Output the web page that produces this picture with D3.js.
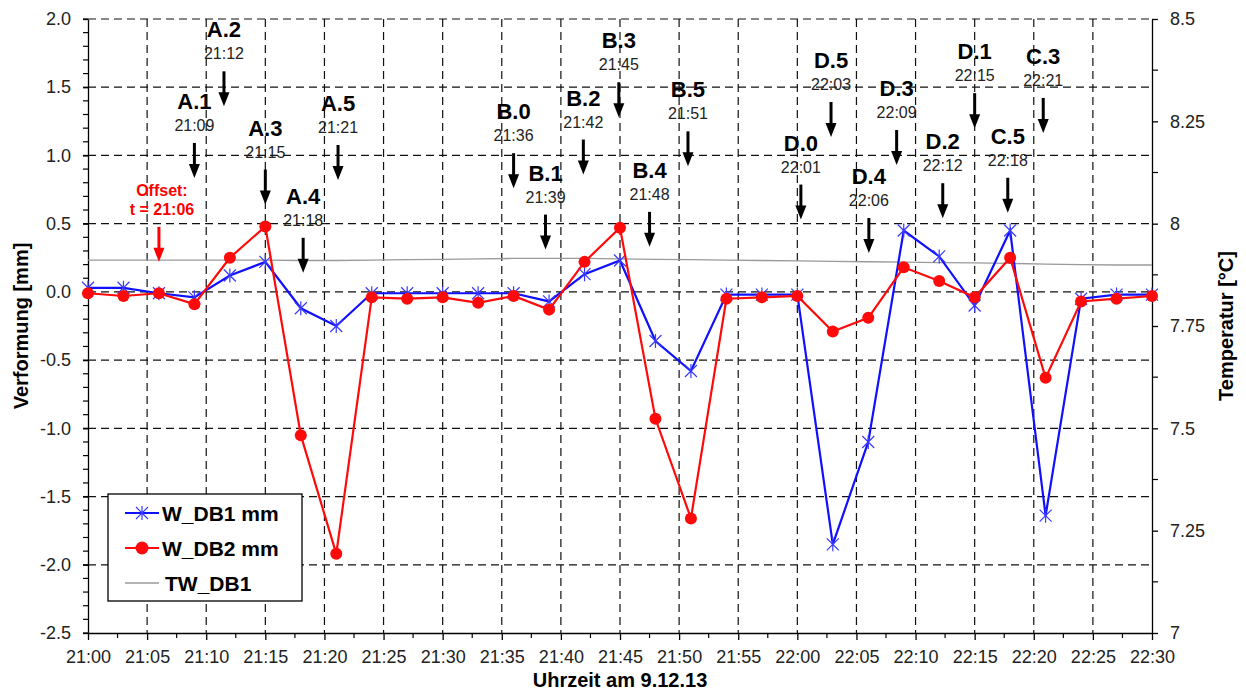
<!DOCTYPE html>
<html lang="de">
<head>
<meta charset="UTF-8">
<script src="https://d3js.org/d3.v7.min.js"></script>
<style>
  body { margin: 0; background: #fff; }
  svg { font-family: "Liberation Sans", Arial, sans-serif; }
  .grid line { stroke: #111; stroke-width: 1.2; stroke-dasharray: 8,5; }
  .axis text { font-size: 18px; fill: #222; }
  .axis path, .axis line { stroke: #000; stroke-width: 1.3; }
  .title { font-size: 20px; font-weight: bold; fill: #000; }
  .ann-label { font-size: 22px; font-weight: bold; fill: #000; }
  .ann-time { font-size: 16px; fill: #222; }
  .legend text { font-size: 21px; font-weight: bold; }
</style>
</head>
<body>
<svg width="1246" height="696"></svg>
<script>
// measurement times (every 3 minutes)
var times = ["21:00","21:03","21:06","21:09","21:12","21:15","21:18","21:21","21:24","21:27",
             "21:30","21:33","21:36","21:39","21:42","21:45","21:48","21:51","21:54","21:57",
             "22:00","22:03","22:06","22:09","22:12","22:15","22:18","22:21","22:24","22:27","22:30"];
// deformation [mm]
var wdb1 = [0.03, 0.03, -0.01, -0.04, 0.12, 0.22, -0.12, -0.25, -0.01, -0.01,
            -0.01, -0.01, -0.01, -0.07, 0.13, 0.23, -0.36, -0.58, -0.02, -0.02,
            -0.02, -1.85, -1.10, 0.45, 0.26, -0.10, 0.45, -1.64, -0.05, -0.02, -0.02];
var wdb2 = [-0.01, -0.03, -0.01, -0.09, 0.25, 0.48, -1.05, -1.92, -0.04, -0.05,
            -0.04, -0.08, -0.03, -0.13, 0.22, 0.47, -0.93, -1.66, -0.05, -0.04,
            -0.03, -0.29, -0.19, 0.18, 0.08, -0.04, 0.25, -0.63, -0.07, -0.05, -0.03];
// temperature [°C]
var twdb1 = [7.911, 7.911, 7.911, 7.911, 7.911, 7.911, 7.910, 7.910, 7.911, 7.912,
             7.913, 7.914, 7.915, 7.915, 7.915, 7.914, 7.913, 7.912, 7.911, 7.910,
             7.909, 7.908, 7.907, 7.906, 7.905, 7.904, 7.903, 7.901, 7.900, 7.899, 7.899];
var seriesNames = ["W_DB1 mm", "W_DB2 mm", "TW_DB1"];

// annotations: arrow at minute after 21:00, arrow tip in mm
var annLabels = ["A.1","A.2","A.3","A.4","A.5","B.0","B.1","B.2","B.3","B.4","B.5",
                 "D.0","D.5","D.4","D.3","D.2","D.1","C.5","C.3"];
var annTimes = ["21:09","21:12","21:15","21:18","21:21","21:36","21:39","21:42","21:45","21:48","21:51",
                "22:01","22:03","22:06","22:09","22:12","22:15","22:18","22:21"];
var annX = [9.0, 11.5, 15.0, 18.2, 21.15, 36.0, 38.7, 41.9, 44.9, 47.5, 50.75,
            60.3, 62.85, 66.05, 68.4, 72.3, 75.0, 77.8, 80.8];
var annTip = [0.835, 1.36, 0.64, 0.14, 0.82, 0.76, 0.31, 0.86, 1.28, 0.33, 0.92,
              0.53, 1.135, 0.285, 0.93, 0.54, 1.2, 0.58, 1.165];
var offsetLines = ["Offset:", "t = 21:06"];
var offsetX = 6, offsetTip = 0.22;

var svg = d3.select("svg"),
    margin = {top: 19, right: 94, bottom: 63, left: 88},
    width = +svg.attr("width") - margin.left - margin.right,
    height = +svg.attr("height") - margin.top - margin.bottom;

var g = svg.append("g").attr("transform", "translate(" + margin.left + "," + margin.top + ")");

function toMin(t) {
    var p = t.split(":");
    return (+p[0] - 21) * 60 + (+p[1]);
}
function fmtMin(m) {
    var h = 21 + Math.floor(m / 60), mm = m % 60;
    return h + ":" + (mm < 10 ? "0" : "") + mm;
}

var x = d3.scaleLinear().domain([0, 90]).range([0, width]);
var y = d3.scaleLinear().domain([-2.5, 2]).range([height, 0]);
var y2 = d3.scaleLinear().domain([7, 8.5]).range([height, 0]);

var xMajor = d3.range(0, 91, 5), xMinor = d3.range(2.5, 90, 5);
var yMajor = d3.range(-2.5, 2.01, 0.5), yMinor = d3.range(-2.5, 2.001, 0.1);
var y2Major = d3.range(7, 8.51, 0.25), y2Minor = d3.range(7.125, 8.5, 0.25);

// grid
var grid = g.append("g").attr("class", "grid");
grid.selectAll(".gx").data(xMajor.filter(function(d){ return d > 0 && d < 90; }))
    .enter().append("line")
    .attr("x1", function(d){ return x(d); }).attr("x2", function(d){ return x(d); })
    .attr("y1", 0).attr("y2", height);
grid.selectAll(".gy").data(yMajor.filter(function(d){ return d > -2.4; }))
    .enter().append("line")
    .attr("x1", 0).attr("x2", width)
    .attr("y1", function(d){ return y(d); }).attr("y2", function(d){ return y(d); });

// minor ticks
var minor = g.append("g").attr("stroke", "#000").attr("stroke-width", 1.2);
minor.selectAll(".mx").data(xMinor).enter().append("line")
    .attr("x1", function(d){ return x(d); }).attr("x2", function(d){ return x(d); })
    .attr("y1", height).attr("y2", height + 5);
minor.selectAll(".my").data(yMinor).enter().append("line")
    .attr("x1", -5).attr("x2", 0)
    .attr("y1", function(d){ return y(d); }).attr("y2", function(d){ return y(d); });
minor.selectAll(".my2").data(y2Minor).enter().append("line")
    .attr("x1", width).attr("x2", width + 6)
    .attr("y1", function(d){ return y2(d); }).attr("y2", function(d){ return y2(d); });

// axes
g.append("g").attr("class", "axis")
    .attr("transform", "translate(0," + height + ")")
    .call(d3.axisBottom(x).tickValues(xMajor).tickFormat(fmtMin).tickSize(7).tickPadding(10).tickSizeOuter(0));
g.append("g").attr("class", "axis")
    .call(d3.axisLeft(y).tickValues(yMajor).tickFormat(function(d){ return d.toFixed(1); })
        .tickSize(5).tickPadding(12).tickSizeOuter(0));
g.append("g").attr("class", "axis")
    .attr("transform", "translate(" + width + ",0)")
    .call(d3.axisRight(y2).tickValues(y2Major).tickFormat(function(d){ return String(+d.toFixed(2)); })
        .tickSize(6).tickPadding(12).tickSizeOuter(0));

// axis titles
svg.append("text").attr("class", "title")
    .attr("transform", "translate(28," + (margin.top + y(-0.25)) + ") rotate(-90)")
    .attr("text-anchor", "middle").text("Verformung [mm]");
svg.append("text").attr("class", "title")
    .attr("transform", "translate(1233," + (margin.top + y(-0.25)) + ") rotate(-90)")
    .attr("text-anchor", "middle").text("Temperatur [°C]");
svg.append("text").attr("class", "title")
    .attr("x", margin.left + x(45)).attr("y", 687)
    .attr("text-anchor", "middle").text("Uhrzeit am 9.12.13");

// series
var mins = times.map(toMin);
var line1 = d3.line().x(function(d, i){ return x(mins[i]); }).y(function(d){ return y(d); });
var lineT = d3.line().x(function(d, i){ return x(mins[i]); }).y(function(d){ return y2(d); });

g.append("path").datum(twdb1).attr("d", lineT)
    .attr("fill", "none").attr("stroke", "#9a9a9a").attr("stroke-width", 1.3);

var blue = "#1010ff", red = "#ff0a0a";
var star = "M0,-7V7M-6,-6L6,6M-6,6L6,-6";

g.append("path").datum(wdb1).attr("d", line1)
    .attr("fill", "none").attr("stroke", blue).attr("stroke-width", 2.2);
g.selectAll(".m1").data(wdb1).enter().append("path")
    .attr("d", star)
    .attr("transform", function(d, i){ return "translate(" + x(mins[i]) + "," + y(d) + ")"; })
    .attr("fill", "none").attr("stroke", "#3a3aff").attr("stroke-width", 1.2);

g.append("path").datum(wdb2).attr("d", line1)
    .attr("fill", "none").attr("stroke", red).attr("stroke-width", 2.2);
g.selectAll(".m2").data(wdb2).enter().append("circle")
    .attr("cx", function(d, i){ return x(mins[i]); })
    .attr("cy", function(d){ return y(d); })
    .attr("r", 6).attr("fill", red);

// annotation arrows
function arrow(px, tipY, color) {
    var len = 35, head = 14;
    g.append("line")
        .attr("x1", px).attr("x2", px)
        .attr("y1", tipY - len).attr("y2", tipY - head + 1)
        .attr("stroke", color).attr("stroke-width", 3);
    g.append("path")
        .attr("d", "M" + (px - 5.5) + "," + (tipY - head) + "L" + (px + 5.5) + "," + (tipY - head) + "L" + px + "," + tipY + "Z")
        .attr("fill", color);
}

annLabels.forEach(function(lab, i) {
    var px = x(annX[i]), tip = y(annTip[i]);
    arrow(px, tip, "#000");
    g.append("text").attr("class", "ann-time")
        .attr("x", px).attr("y", tip - 47).attr("text-anchor", "middle").text(annTimes[i]);
    g.append("text").attr("class", "ann-label")
        .attr("x", px).attr("y", tip - 69).attr("text-anchor", "middle").text(lab);
});

var ox = x(offsetX), ot = y(offsetTip);
arrow(ox, ot, "#ff0000");
offsetLines.forEach(function(t, i) {
    g.append("text")
        .attr("x", ox + 3).attr("y", ot - 66 + i * 19)
        .attr("text-anchor", "middle")
        .attr("fill", "#ff0000").attr("font-size", 16).attr("font-weight", "bold")
        .text(t);
});

// legend
var lg = svg.append("g").attr("class", "legend").attr("transform", "translate(108,494)");
lg.append("rect").attr("width", 194).attr("height", 107)
    .attr("fill", "#fff").attr("stroke", "#000").attr("stroke-width", 1.3);
var legendColors = [blue, red, "#9a9a9a"];
seriesNames.forEach(function(name, i) {
    var ly = 19 + i * 35;
    lg.append("line").attr("x1", 17).attr("x2", 51).attr("y1", ly).attr("y2", ly)
        .attr("stroke", legendColors[i]).attr("stroke-width", i < 2 ? 2.2 : 1.3);
    if (i === 0) {
        lg.append("path").attr("d", star).attr("transform", "translate(34," + ly + ")")
            .attr("fill", "none").attr("stroke", "#3a3aff").attr("stroke-width", 1.2);
    } else if (i === 1) {
        lg.append("circle").attr("cx", 34).attr("cy", ly).attr("r", 6.5).attr("fill", red);
    }
    lg.append("text").attr("x", i < 2 ? 54 : 57).attr("y", ly + 8).text(name);
});
</script>
</body>
</html>
